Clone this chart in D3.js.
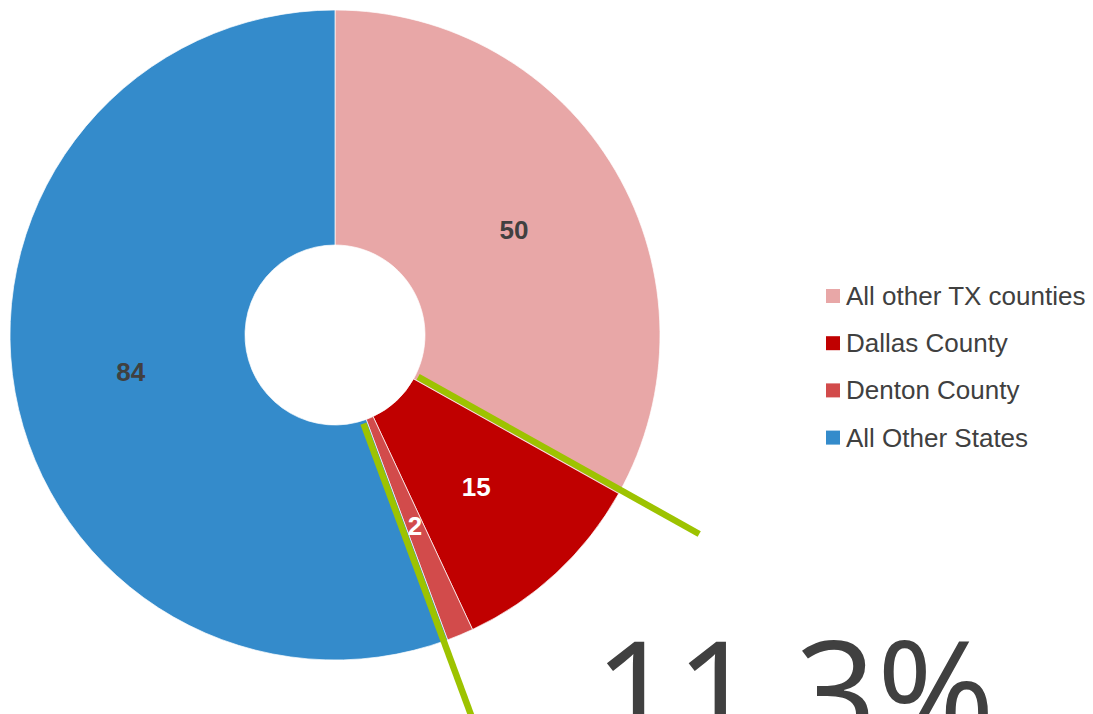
<!DOCTYPE html>
<html>
<head>
<meta charset="utf-8">
<script src="https://cdn.jsdelivr.net/npm/d3@7"></script>
<style>
  html, body { margin: 0; padding: 0; background: #fff; overflow: hidden; }
  svg { display: block; }
</style>
</head>
<body>
<svg id="chart" width="1093" height="714"></svg>
<script>
const categories = ["All other TX counties", "Dallas County", "Denton County", "All Other States"];
const values = [50, 15, 2, 84];
const colors = ["#e8a7a7", "#c00000", "#d24b4b", "#348bcb"];
const labelColors = ["#404040", "#ffffff", "#ffffff", "#404040"];
const highlightText = "11.3%";

const svg = d3.select("#chart");
const cx = 335, cy = 335, outerR = 325, innerR = 90;

const data = categories.map((c, i) => ({ name: c, value: values[i], color: colors[i], labelColor: labelColors[i] }));

const pie = d3.pie().value(d => d.value).sort(null).startAngle(0).endAngle(2 * Math.PI);
const arcs = pie(data);
const arc = d3.arc().innerRadius(innerR).outerRadius(outerR);

const g = svg.append("g").attr("transform", `translate(${cx},${cy})`);

g.selectAll("path.slice").data(arcs).enter().append("path")
  .attr("class", "slice")
  .attr("d", arc)
  .attr("fill", d => d.data.color)
  .attr("stroke", "#ffffff")
  .attr("stroke-width", 0.7);

g.selectAll("text.lbl").data(arcs).enter().append("text")
  .attr("class", "lbl")
  .attr("transform", d => `translate(${arc.centroid(d)})`)
  .attr("text-anchor", "middle")
  .attr("dominant-baseline", "central")
  .attr("font-family", "Liberation Sans, Arial, sans-serif")
  .attr("font-weight", "bold")
  .attr("font-size", 26)
  .attr("fill", d => d.data.labelColor)
  .text(d => d.data.value);

// Green bracket lines around the Dallas + Denton share
const hiStart = arcs[1].startAngle;
const hiEnd = arcs[2].endAngle;
const off = 4, r0 = 93, r1 = 415;
function bracket(a, sign) {
  const px = sign * off * Math.cos(a), py = sign * off * Math.sin(a);
  return [[r0 * Math.sin(a) + px, -r0 * Math.cos(a) + py], [r1 * Math.sin(a) + px, -r1 * Math.cos(a) + py]];
}
[bracket(hiStart, -1), bracket(hiEnd, 1)].forEach(pts => {
  g.append("line")
    .attr("x1", pts[0][0]).attr("y1", pts[0][1])
    .attr("x2", pts[1][0]).attr("y2", pts[1][1])
    .attr("stroke", "#9dc300")
    .attr("stroke-width", 6.5);
});

// Legend
const legend = svg.append("g").attr("transform", "translate(826,289)");
const rowH = 47.2;
const items = legend.selectAll("g").data(data).enter().append("g")
  .attr("transform", (d, i) => `translate(0,${i * rowH})`);
items.append("rect").attr("width", 14).attr("height", 14).attr("fill", d => d.color);
items.append("text")
  .attr("x", 20).attr("y", 7)
  .attr("dominant-baseline", "central")
  .attr("font-family", "Liberation Sans, Arial, sans-serif")
  .attr("font-size", 26)
  .attr("fill", "#404040")
  .text(d => d.name);

// Big percentage text
svg.append("text")
  .attr("x", 594).attr("y", 744)
  .attr("font-family", "Open Sans, sans-serif")
  .attr("font-size", 143)
  .attr("fill", "#404040")
  .text(highlightText);
</script>
</body>
</html>
